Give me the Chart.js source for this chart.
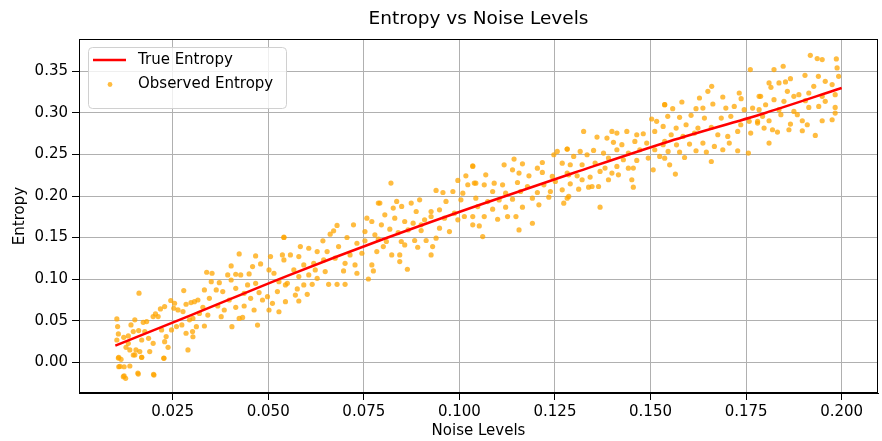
<!DOCTYPE html>
<html>
<head>
<meta charset="utf-8">
<title>Entropy vs Noise Levels</title>
<script src="https://cdn.jsdelivr.net/npm/chart.js@4/dist/chart.umd.min.js"></script>
<style>
  html, body { margin: 0; padding: 0; background: #fff; }
  #wrap { width: 882px; height: 441px; }
</style>
</head>
<body>
<div id="wrap"><canvas id="entropyChart" width="882" height="441"></canvas></div>
<script>
// --- Data ---
const chartTitle = 'Entropy vs Noise Levels';
const xTicks = [0.025, 0.050, 0.075, 0.100, 0.125, 0.150, 0.175, 0.200];
const yTicks = [0.00, 0.05, 0.10, 0.15, 0.20, 0.25, 0.30, 0.35];

// red curve
const trueNoise = [0.010, 0.030, 0.055, 0.080, 0.105, 0.130, 0.155, 0.180, 0.200];
const trueEntropy = [0.020, 0.057, 0.104, 0.148, 0.189, 0.228, 0.266, 0.300, 0.330];

// orange dots [noise, entropy]
const observedPoints = [
  [0.0162,0.0831],[0.0279,0.0863],[0.0245,0.0743],[0.0255,0.0710],[0.0285,0.0698],[0.0298,0.0718],
  [0.0218,0.0642],[0.0229,0.0670],[0.0264,0.0630],[0.0277,0.0610],[0.0253,0.0650],[0.0205,0.0582],
  [0.0199,0.0550],[0.0212,0.0550],[0.0182,0.0489],[0.0173,0.0481],[0.0151,0.0510],[0.0104,0.0521],
  [0.0141,0.0449],[0.0106,0.0429],[0.0108,0.0341],[0.0122,0.0300],[0.0134,0.0317],[0.0147,0.0369],
  [0.0161,0.0381],[0.0177,0.0369],[0.0187,0.0288],[0.0169,0.0268],[0.0199,0.0228],[0.0221,0.0389],
  [0.0233,0.0309],[0.0247,0.0389],[0.0260,0.0429],[0.0274,0.0449],[0.0294,0.0510],[0.0302,0.0369],
  [0.0285,0.0349],[0.0229,0.0248],[0.0238,0.0180],[0.0128,0.0180],[0.0138,0.0148],[0.0154,0.0148],
  [0.0164,0.0128],[0.0147,0.0087],[0.0169,0.0059],[0.0109,0.0059],[0.0115,0.0035],[0.0227,0.0047],
  [0.0290,0.0148],[0.0109,-0.0054],[0.0123,-0.0054],[0.0138,-0.0045],[0.0160,-0.0142],[0.0201,-0.0154],
  [0.0121,-0.0174],[0.0127,-0.0194],[0.0104,0.0268],[0.0134,0.0228],[0.0108,0.0050],[0.0112,-0.0050],
  [0.0123,-0.0165],[0.0159,-0.0130],[0.0200,-0.0145],[0.0227,0.0050],[0.0151,0.0088],[0.0169,0.0060],
  [0.0190,0.0128],
  [0.0424,0.1304],[0.0467,0.1280],[0.0541,0.1505],[0.0537,0.1292],[0.0506,0.1272],[0.0403,0.1159],
  [0.0459,0.1151],[0.0480,0.1183],[0.0339,0.1083],[0.0353,0.1071],[0.0394,0.1051],[0.0415,0.1059],
  [0.0428,0.1051],[0.0450,0.1063],[0.0502,0.1111],[0.0515,0.1071],[0.0351,0.0970],[0.0372,0.0958],
  [0.0403,0.0990],[0.0446,0.0930],[0.0467,0.0950],[0.0528,0.0970],[0.0545,0.0930],[0.0333,0.0870],
  [0.0364,0.0870],[0.0381,0.0850],[0.0415,0.0890],[0.0437,0.0830],[0.0476,0.0838],[0.0498,0.0789],
  [0.0524,0.0850],[0.0316,0.0749],[0.0346,0.0769],[0.0398,0.0749],[0.0454,0.0769],[0.0485,0.0749],
  [0.0307,0.0729],[0.0329,0.0661],[0.0368,0.0677],[0.0385,0.0629],[0.0415,0.0661],[0.0437,0.0677],
  [0.0463,0.0629],[0.0511,0.0709],[0.0528,0.0608],[0.0320,0.0588],[0.0342,0.0568],[0.0377,0.0548],
  [0.0424,0.0528],[0.0303,0.0528],[0.0312,0.0428],[0.0333,0.0436],[0.0405,0.0428],[0.0433,0.0540],
  [0.0472,0.0448],[0.0303,0.0307],[0.0502,0.0629],[0.0545,0.0729],
  [0.0788,0.1915],[0.0758,0.1734],[0.0771,0.1694],[0.0723,0.1654],[0.0680,0.1646],[0.0671,0.1581],
  [0.0662,0.1541],[0.0706,0.1501],[0.0753,0.1573],[0.0779,0.1533],[0.0541,0.1501],[0.0643,0.1461],
  [0.0684,0.1392],[0.0732,0.1432],[0.0753,0.1461],[0.0584,0.1392],[0.0606,0.1372],[0.0628,0.1332],
  [0.0558,0.1292],[0.0580,0.1272],[0.0654,0.1332],[0.0675,0.1252],[0.0714,0.1292],[0.0745,0.1312],
  [0.0784,0.1332],[0.0541,0.1232],[0.0593,0.1171],[0.0619,0.1191],[0.0645,0.1232],[0.0701,0.1191],
  [0.0727,0.1171],[0.0771,0.1171],[0.0567,0.1111],[0.0623,0.1111],[0.0649,0.1091],[0.0732,0.1071],
  [0.0775,0.1099],[0.0580,0.1031],[0.0606,0.1051],[0.0628,0.1010],[0.0550,0.0950],[0.0593,0.0930],
  [0.0615,0.0938],[0.0658,0.0938],[0.0680,0.0938],[0.0701,0.0938],[0.0762,0.1002],[0.0576,0.0882],
  [0.0602,0.0817],[0.0571,0.0809],[0.0580,0.0737],[0.0697,0.1099],
  [0.1035,0.2365],[0.1017,0.2244],[0.0996,0.2188],[0.1022,0.2136],[0.0821,0.2156],[0.0939,0.2068],
  [0.0957,0.2043],[0.0983,0.2055],[0.1009,0.2035],[0.1039,0.2156],[0.0792,0.1915],[0.0836,0.1935],
  [0.0874,0.1915],[0.0896,0.1955],[0.0965,0.1935],[0.1004,0.1955],[0.0827,0.1855],[0.0849,0.1875],
  [0.0887,0.1814],[0.0926,0.1814],[0.0948,0.1834],[0.0987,0.1794],[0.1013,0.1754],[0.0805,0.1774],
  [0.0831,0.1734],[0.0857,0.1694],[0.0879,0.1674],[0.0909,0.1714],[0.0926,0.1754],[0.0961,0.1734],
  [0.0996,0.1714],[0.1035,0.1654],[0.0796,0.1654],[0.0818,0.1601],[0.0840,0.1561],[0.0866,0.1593],
  [0.0900,0.1585],[0.0948,0.1613],[0.0974,0.1573],[0.0788,0.1481],[0.0809,0.1453],[0.0848,0.1453],
  [0.0883,0.1465],[0.0913,0.1465],[0.0939,0.1493],[0.0801,0.1392],[0.0857,0.1412],[0.0891,0.1384],
  [0.0930,0.1392],[0.0823,0.1292],[0.0844,0.1292],[0.0926,0.1292],[0.0844,0.1211],[0.0864,0.1119],
  [0.0900,0.1654],
  [0.1282,0.2565],[0.1256,0.2537],[0.1247,0.2497],[0.1143,0.2445],[0.1117,0.2376],[0.1217,0.2404],
  [0.1165,0.2388],[0.1269,0.2396],[0.1139,0.2316],[0.1204,0.2336],[0.1035,0.2356],[0.1069,0.2256],
  [0.1156,0.2276],[0.1182,0.2244],[0.1217,0.2284],[0.1243,0.2236],[0.1286,0.2256],[0.1043,0.2155],
  [0.1065,0.2135],[0.1091,0.2155],[0.1113,0.2135],[0.1152,0.2163],[0.1178,0.2115],[0.1221,0.2135],
  [0.1251,0.2175],[0.1269,0.2075],[0.1087,0.2055],[0.1121,0.2035],[0.1160,0.2055],[0.1204,0.2043],
  [0.1238,0.2055],[0.1043,0.1974],[0.1074,0.1934],[0.1104,0.1954],[0.1139,0.1962],[0.1191,0.1974],
  [0.1234,0.1986],[0.1282,0.1974],[0.1048,0.1874],[0.1087,0.1842],[0.1121,0.1866],[0.1165,0.1866],
  [0.1208,0.1894],[0.1273,0.1914],[0.1035,0.1753],[0.1065,0.1753],[0.1100,0.1721],[0.1126,0.1753],
  [0.1148,0.1753],[0.1052,0.1641],[0.1191,0.1673],[0.1156,0.1592],[0.1061,0.1512],
  [0.1537,0.3100],[0.1516,0.2899],[0.1503,0.2927],[0.1325,0.2778],[0.1399,0.2778],[0.1438,0.2778],
  [0.1412,0.2758],[0.1360,0.2710],[0.1386,0.2698],[0.1464,0.2738],[0.1481,0.2750],[0.1511,0.2778],
  [0.1403,0.2646],[0.1425,0.2618],[0.1459,0.2658],[0.1490,0.2638],[0.1533,0.2618],[0.1282,0.2565],
  [0.1316,0.2537],[0.1351,0.2549],[0.1377,0.2517],[0.1412,0.2557],[0.1442,0.2517],[0.1472,0.2557],
  [0.1511,0.2557],[0.1299,0.2477],[0.1334,0.2497],[0.1390,0.2457],[0.1429,0.2437],[0.1464,0.2429],
  [0.1494,0.2457],[0.1524,0.2477],[0.1290,0.2377],[0.1321,0.2377],[0.1355,0.2397],[0.1381,0.2337],
  [0.1412,0.2357],[0.1455,0.2337],[0.1507,0.2316],[0.1282,0.2276],[0.1308,0.2244],[0.1342,0.2228],
  [0.1368,0.2296],[0.1399,0.2276],[0.1442,0.2336],[0.1290,0.2147],[0.1321,0.2196],[0.1347,0.2115],
  [0.1390,0.2196],[0.1416,0.2256],[0.1451,0.2196],[0.1455,0.2107],[0.1312,0.2083],[0.1338,0.2107],
  [0.1364,0.2115],[0.1286,0.1995],[0.1368,0.1866],
  [0.1761,0.3522],[0.1660,0.3321],[0.1650,0.3260],[0.1732,0.3240],[0.1628,0.3180],[0.1689,0.3192],
  [0.1737,0.3172],[0.1784,0.3200],[0.1582,0.3132],[0.1537,0.3100],[0.1663,0.3108],[0.1719,0.3079],
  [0.1558,0.3051],[0.1619,0.3051],[0.1637,0.3059],[0.1697,0.3059],[0.1745,0.3039],[0.1767,0.3059],
  [0.1545,0.2959],[0.1576,0.2947],[0.1606,0.2971],[0.1641,0.2939],[0.1685,0.2939],[0.1710,0.2959],
  [0.1758,0.2899],[0.1780,0.2878],[0.1533,0.2838],[0.1567,0.2818],[0.1593,0.2858],[0.1624,0.2818],
  [0.1659,0.2826],[0.1736,0.2858],[0.1554,0.2738],[0.1585,0.2718],[0.1615,0.2758],[0.1676,0.2738],
  [0.1702,0.2718],[0.1728,0.2778],[0.1762,0.2758],[0.1537,0.2657],[0.1568,0.2617],[0.1602,0.2625],
  [0.1637,0.2637],[0.1667,0.2597],[0.1706,0.2637],[0.1546,0.2537],[0.1576,0.2529],[0.1619,0.2545],
  [0.1646,0.2529],[0.1689,0.2557],[0.1728,0.2545],[0.1537,0.2456],[0.1589,0.2464],[0.1659,0.2416],
  [0.1756,0.2517],[0.1550,0.2376],[0.1565,0.2264],
  [0.1918,0.3694],[0.1936,0.3654],[0.1949,0.3642],[0.1986,0.3650],[0.1988,0.3542],[0.1823,0.3522],
  [0.1847,0.3562],[0.1992,0.3441],[0.1904,0.3453],[0.1866,0.3413],[0.1853,0.3373],[0.1939,0.3441],
  [0.1810,0.3361],[0.1836,0.3361],[0.1957,0.3381],[0.1815,0.3308],[0.1927,0.3320],[0.1975,0.3341],
  [0.1858,0.3260],[0.1888,0.3220],[0.1914,0.3240],[0.1875,0.3200],[0.1788,0.3200],[0.1949,0.3200],
  [0.1983,0.3220],[0.1823,0.3160],[0.1849,0.3140],[0.1905,0.3148],[0.1957,0.3140],[0.1801,0.3099],
  [0.1940,0.3079],[0.1983,0.3067],[0.1784,0.3039],[0.1836,0.3039],[0.1875,0.3019],[0.1914,0.3067],
  [0.1793,0.2959],[0.1841,0.2979],[0.1884,0.2979],[0.1983,0.2999],[0.1780,0.2898],[0.1810,0.2906],
  [0.1866,0.2866],[0.1897,0.2906],[0.1910,0.2858],[0.1949,0.2906],[0.1975,0.2918],[0.1797,0.2818],
  [0.1832,0.2770],[0.1862,0.2798],[0.1897,0.2786],[0.1819,0.2798],[0.1931,0.2730],[0.1810,0.2637]
];

const FONT = '"DejaVu Sans", "Liberation Sans", sans-serif';
Chart.defaults.color = '#000';
Chart.defaults.font.family = FONT;

// frame, title and in-plot legend (matplotlib look)
const frameAndLegend = {
    id: 'frameAndLegend',
    afterDraw(chart) {
        const { ctx, chartArea: a } = chart;
        ctx.save();
        ctx.strokeStyle = '#000';
        ctx.lineWidth = 1;
        ctx.strokeRect(a.left + 0.5, a.top + 0.5, a.right - a.left - 1, a.bottom - a.top - 1);

        ctx.fillStyle = '#000';
        ctx.font = '18.5px ' + FONT;
        ctx.textAlign = 'center';
        ctx.textBaseline = 'middle';
        ctx.fillText(chartTitle, (a.left + a.right) / 2, 19);

        // legend box
        const bx = 88, by = 47, bw = 198, bh = 61;
        ctx.beginPath();
        ctx.roundRect(bx + 0.5, by + 0.5, bw, bh, 4);
        ctx.fillStyle = 'rgba(255,255,255,0.8)';
        ctx.fill();
        ctx.strokeStyle = '#d0d0d0';
        ctx.stroke();

        const ds = chart.data.datasets;
        ctx.strokeStyle = ds[0].borderColor;
        ctx.lineWidth = 2.5;
        ctx.beginPath();
        ctx.moveTo(93, 60);
        ctx.lineTo(126, 60);
        ctx.stroke();

        ctx.fillStyle = ds[1].backgroundColor;
        ctx.beginPath();
        ctx.arc(110, 84.5, 2.4, 0, Math.PI * 2);
        ctx.fill();

        ctx.fillStyle = '#000';
        ctx.font = '15px ' + FONT;
        ctx.textAlign = 'left';
        ctx.fillText(ds[0].label, 138, 60);
        ctx.fillText(ds[1].label, 138, 84);
        ctx.restore();
    }
};

const ctx = document.getElementById('entropyChart').getContext('2d');
new Chart(ctx, {
    type: 'scatter',
    data: {
        datasets: [{
            type: 'line',
            label: 'True Entropy',
            data: trueNoise.map((x, i) => ({ x: x, y: trueEntropy[i] })),
            borderColor: '#ff0000',
            borderWidth: 2.5,
            pointRadius: 0,
            fill: false,
            cubicInterpolationMode: 'monotone'
        }, {
            label: 'Observed Entropy',
            data: observedPoints.map(p => ({ x: p[0], y: p[1] })),
            backgroundColor: 'rgba(255,165,0,0.75)',
            borderWidth: 0,
            pointRadius: 2.6
        }]
    },
    options: {
        responsive: false,
        animation: false,
        devicePixelRatio: 1,
        layout: { padding: { top: 39, right: 1, left: 0, bottom: 0 } },
        plugins: {
            legend: { display: false },
            title: { display: false },
            tooltip: { enabled: false }
        },
        scales: {
            x: {
                type: 'linear',
                min: 0.0005,
                max: 0.2095,
                afterBuildTicks: s => { s.ticks = xTicks.map(v => ({ value: v })); },
                afterFit: s => { s.height = 48; },
                ticks: {
                    padding: 3,
                    font: { size: 15 },
                    callback: v => v.toFixed(3)
                },
                grid: { color: '#b0b0b0', lineWidth: 1, tickLength: 7, tickColor: '#000' },
                border: { color: '#000', width: 1 },
                title: { display: true, text: 'Noise Levels', font: { size: 15 }, padding: { top: 0, bottom: 1 } }
            },
            y: {
                min: -0.037,
                max: 0.389,
                afterBuildTicks: s => { s.ticks = yTicks.map(v => ({ value: v })); },
                afterFit: s => { s.width = 79; },
                ticks: {
                    padding: 4,
                    font: { size: 15 },
                    callback: v => v.toFixed(2)
                },
                grid: { color: '#b0b0b0', lineWidth: 1, tickLength: 7, tickColor: '#000' },
                border: { color: '#000', width: 1 },
                title: { display: true, text: 'Entropy', font: { size: 15 }, padding: { top: 11, bottom: 0 } }
            }
        }
    },
    plugins: [frameAndLegend]
});
</script>
</body>
</html>
